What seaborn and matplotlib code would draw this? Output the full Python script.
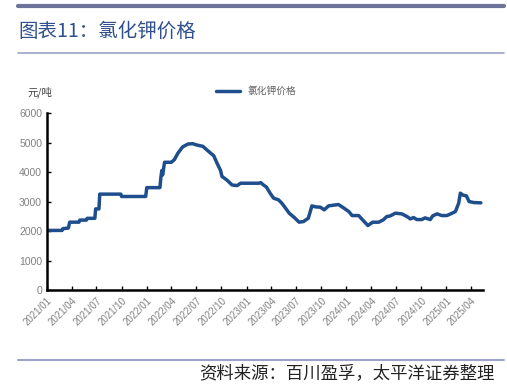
import pandas as pd
import matplotlib
matplotlib.use('Agg')
import matplotlib.pyplot as plt
import seaborn as sns

# 氯化钾价格 (元/吨)
dates = [
    '2021-01-01', '2021-02-25', '2021-02-28', '2021-03-20', '2021-03-25', '2021-04-28',
    '2021-05-01', '2021-05-25', '2021-05-28', '2021-06-25', '2021-06-28', '2021-07-10',
    '2021-07-13', '2021-09-28', '2021-10-01', '2021-12-28', '2022-01-01', '2022-02-18',
    '2022-02-22', '2022-02-25', '2022-02-28', '2022-03-07', '2022-04-01', '2022-04-12',
    '2022-04-25', '2022-05-12', '2022-06-01', '2022-06-18', '2022-07-01', '2022-07-25',
    '2022-08-15', '2022-09-03', '2022-09-15', '2022-09-28', '2022-10-03', '2022-10-22',
    '2022-11-09', '2022-11-28', '2022-12-10', '2023-01-10', '2023-02-15', '2023-02-22',
    '2023-03-03', '2023-03-15', '2023-03-28', '2023-04-10', '2023-04-28', '2023-05-10',
    '2023-05-22', '2023-06-06', '2023-06-25', '2023-07-12', '2023-07-28', '2023-08-15',
    '2023-08-28', '2023-09-10', '2023-09-28', '2023-10-12', '2023-10-28', '2023-11-15',
    '2023-12-03', '2023-12-20', '2024-01-10', '2024-01-22', '2024-02-15', '2024-03-03',
    '2024-03-20', '2024-04-06', '2024-04-28', '2024-05-15', '2024-05-28', '2024-06-10',
    '2024-06-28', '2024-07-22', '2024-08-10', '2024-08-22', '2024-09-03', '2024-09-15',
    '2024-10-03', '2024-10-15', '2024-11-03', '2024-11-12', '2024-11-28', '2024-12-15',
    '2025-01-03', '2025-01-22', '2025-02-03', '2025-02-15', '2025-02-21', '2025-03-03',
    '2025-03-15', '2025-03-25', '2025-04-10', '2025-05-07',
]
prices = [
    2020, 2020, 2080, 2100, 2300, 2300,
    2370, 2370, 2430, 2430, 2750, 2750,
    3250, 3250, 3170, 3170, 3470, 3470,
    3850, 4050, 3900, 4330, 4330, 4420,
    4640, 4850, 4950, 4960, 4920, 4870,
    4700, 4550, 4300, 4050, 3850, 3720,
    3560, 3540, 3620, 3620, 3620, 3640,
    3566, 3487, 3283, 3113, 3056, 2943,
    2796, 2604, 2456, 2300, 2320, 2434,
    2852, 2819, 2807, 2717, 2852, 2875,
    2898, 2796, 2660, 2524, 2524, 2354,
    2185, 2298, 2298, 2377, 2490, 2513,
    2604, 2581, 2490, 2411, 2456, 2388,
    2388, 2445, 2388, 2513, 2581, 2524,
    2524, 2604, 2660, 2943, 3283, 3215,
    3192, 3000, 2966, 2955,
]
tick_labels = ['2021/01', '2021/04', '2021/07', '2021/10', '2022/01', '2022/04',
               '2022/07', '2022/10', '2023/01', '2023/04', '2023/07', '2023/10',
               '2024/01', '2024/04', '2024/07', '2024/10', '2025/01', '2025/04']

df = pd.DataFrame({'date': pd.to_datetime(dates), 'price': prices})

sns.set_style('white')
plt.rcParams['font.family'] = ['Noto Sans CJK SC', 'DejaVu Sans']

fig = plt.figure(figsize=(5.07, 3.87), dpi=100)
ax = fig.add_axes([0.0927, 0.2506, 0.86, 0.4574])

sns.lineplot(data=df, x='date', y='price', ax=ax, color='#1f4e8c',
             linewidth=2.5, label='氯化钾价格')

ax.set_ylim(0, 6000)
ax.set_yticks(range(0, 6001, 1000))
ax.set_xlim(pd.Timestamp('2021-01-01'), pd.Timestamp('2025-05-15'))
tick_pos = pd.to_datetime([t.replace('/', '-') + '-01' for t in tick_labels])
ax.set_xticks(tick_pos)
ax.set_xticklabels(tick_labels, rotation=45, ha='right', rotation_mode='anchor',
                   family='Liberation Sans')
for lab in ax.get_yticklabels():
    lab.set_family('Liberation Sans')
ax.set_xlabel('')
ax.set_ylabel('')
ax.tick_params(axis='x', labelsize=7, colors='#808080', direction='in', length=3,
               width=1, color='black', pad=4, bottom=True)
ax.tick_params(axis='y', labelsize=7.5, colors='#808080', length=3, width=1,
               color='black', left=True, direction='in')
for s in ['top', 'right']:
    ax.spines[s].set_visible(False)
for s in ['left', 'bottom']:
    ax.spines[s].set_color('black')
    ax.spines[s].set_linewidth(1.8)

ax.legend(loc='upper center', bbox_to_anchor=(0.48, 1.2), frameon=False,
          fontsize=7, handlelength=2.5, labelcolor='#606060')
fig.text(0.055, 0.752, '元/吨', fontsize=7.5, color='#404040')

# header / footer decoration
fig.add_artist(plt.Line2D([0.035, 0.995], [0.985, 0.985], color='#6e7399', lw=3))
fig.add_artist(plt.Line2D([0.035, 0.995], [0.862, 0.862], color='#9da3c8', lw=1.2))
fig.add_artist(plt.Line2D([0.035, 0.995], [0.07, 0.07], color='#9da3c8', lw=1.5))
fig.text(0.036, 0.92, '图表11：氯化钾价格', fontsize=14, color='#2f4f8f', va='center')
fig.text(0.975, 0.035, '资料来源：百川盈孚，太平洋证券整理', fontsize=12.5,
         color='#222222', ha='right', va='center', style='italic')

fig.savefig('out.png', dpi=100)
